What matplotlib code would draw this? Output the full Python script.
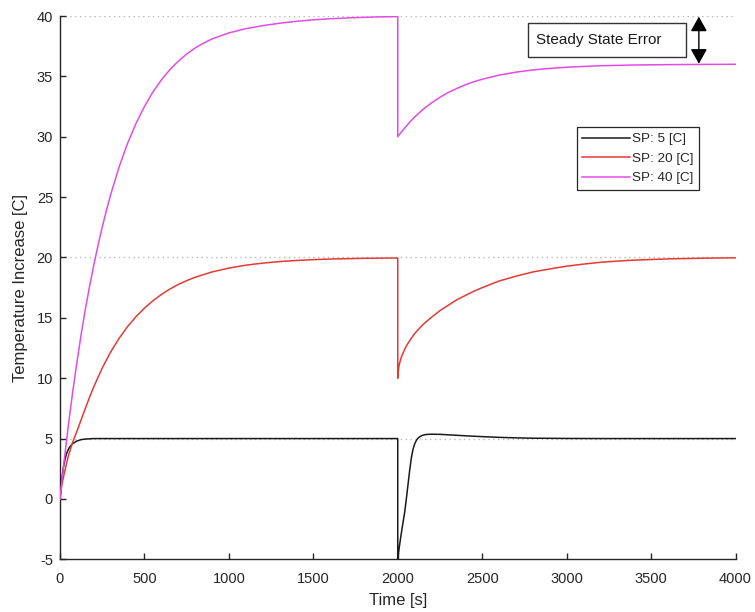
import matplotlib
matplotlib.use("Agg")
import matplotlib.pyplot as plt
from matplotlib.patches import FancyArrowPatch, Rectangle

plt.rcParams["font.family"] = ["Liberation Sans", "DejaVu Sans"]
plt.rcParams["axes.unicode_minus"] = False

AX_C = "#262626"
GRID_C = "#b8b8b8"

# Temperature response for each set point; the disturbance hits at t = 2000 s.
t_sp5 = [0, 5, 10, 15, 20, 30, 40, 50, 60, 75, 100, 125, 150, 175, 200, 1000, 2000,
         2000, 2010, 2020, 2030, 2040, 2050, 2060, 2070, 2080, 2090, 2100, 2110,
         2120, 2130, 2145, 2160, 2180, 2200, 2250, 2300, 2350, 2400, 2500, 2600,
         2700, 2800, 2900, 3000, 3200, 4000]
y_sp5 = [0, 0.8, 1.5, 2.1, 2.6, 3.3, 3.8, 4.12, 4.35, 4.58, 4.8, 4.91, 4.96, 4.98, 5.0, 5.0, 5.0,
         -5.0, -3.9, -2.95, -2.05, -1.2, -0.1, 1.1, 2.3, 3.35, 4.1, 4.55, 4.85,
         5.03, 5.15, 5.26, 5.32, 5.35, 5.36, 5.35, 5.31, 5.27, 5.23, 5.16, 5.1,
         5.06, 5.03, 5.02, 5.01, 5.0, 5.0]

t_sp20 = [0, 10, 25, 50, 75, 100, 125, 150, 175, 200, 250, 300, 350, 400, 450,
          500, 550, 600, 650, 700, 750, 800, 900, 1000, 1100, 1200, 1300, 1400,
          1500, 1600, 1800, 2000,
          2000, 2005, 2010, 2020, 2035, 2050, 2075, 2100, 2150, 2200, 2250, 2300,
          2350, 2400, 2450, 2500, 2600, 2700, 2800, 2900, 3000, 3100, 3200, 3300,
          3400, 3600, 3800, 4000]
y_sp20 = [0, 1.1, 2.1, 3.6, 4.7, 5.6, 6.55, 7.5, 8.42, 9.29, 10.84, 12.17, 13.3, 14.27, 15.1,
          15.8, 16.41, 16.93, 17.38, 17.76, 18.08, 18.36, 18.8, 19.12, 19.36, 19.53, 19.66, 19.75,
          19.82, 19.87, 19.93, 19.96,
          10.0, 10.8, 11.2, 11.7, 12.2, 12.65, 13.2, 13.7, 14.45, 15.05, 15.6, 16.05,
          16.5, 16.85, 17.2, 17.5, 18.05, 18.45, 18.8, 19.05, 19.28, 19.45, 19.6, 19.7,
          19.78, 19.88, 19.94, 19.97]

t_sp40 = [0, 25, 50, 75, 100, 125, 150, 175, 200, 225, 250, 275, 300, 350, 400,
          450, 500, 550, 600, 650, 700, 750, 800, 850, 900, 950, 1000, 1100, 1200,
          1300, 1400, 1500, 1600, 1700, 1800, 1900, 2000,
          2000, 2025, 2050, 2075, 2100, 2150, 2200, 2250, 2300, 2350, 2400, 2450,
          2500, 2600, 2700, 2800, 2900, 3000, 3200, 3400, 3600, 3800, 4000]
y_sp40 = [0, 3.2, 6.15, 8.85, 11.3, 13.6, 15.7, 17.6, 19.35, 21.0, 22.5, 23.9, 25.2, 27.5, 29.45,
          31.1, 32.5, 33.7, 34.7, 35.55, 36.25, 36.85, 37.35, 37.75, 38.1, 38.35, 38.6, 38.95, 39.2,
          39.4, 39.56, 39.68, 39.77, 39.84, 39.89, 39.93, 39.95,
          30.0, 30.45, 30.87, 31.27, 31.63, 32.27, 32.8, 33.27, 33.67, 34.0, 34.3, 34.55,
          34.76, 35.1, 35.35, 35.53, 35.66, 35.76, 35.88, 35.94, 35.97, 35.99, 36.0]

setpoints = [5, 20, 40]
labels = ["SP: 5 [C]", "SP: 20 [C]", "SP: 40 [C]"]
colors = ["#1a1a1a", "#e33a36", "#e24be6"]

x_ticks = [0, 500, 1000, 1500, 2000, 2500, 3000, 3500, 4000]
y_ticks = [-5, 0, 5, 10, 15, 20, 25, 30, 35, 40]

fig = plt.figure(figsize=(7.55, 6.12), dpi=100)
ax = fig.add_axes([60 / 755, 1 - 559.3 / 612, 675.5 / 755, 543.3 / 612])

for sp in setpoints:
    ax.axhline(sp, color=GRID_C, ls=(0, (1, 2.5)), lw=1.0, zorder=1)

series = [(t_sp5, y_sp5), (t_sp20, y_sp20), (t_sp40, y_sp40)]
for (t, y), lab, c in zip(series, labels, colors):
    ax.plot(t, y, color=c, lw=1.1, label=lab, zorder=3)

ax.set_xlim(0, 4000)
ax.set_ylim(-5, 40)
ax.set_xticks(x_ticks)
ax.set_yticks(y_ticks)
ax.spines["top"].set_visible(False)
ax.spines["right"].set_visible(False)
for s in ("left", "bottom"):
    ax.spines[s].set_color(AX_C)
    ax.spines[s].set_linewidth(1.0)
ax.tick_params(direction="in", length=4.5, width=1.0, colors=AX_C,
               labelsize=10.5, pad=5)
ax.tick_params(axis="x", pad=9)
ax.set_xlabel("Time [s]", fontsize=12, color=AX_C, labelpad=5)
ax.set_ylabel("Temperature Increase [C]", fontsize=12, color=AX_C, labelpad=6)

leg = ax.legend(loc="upper left", bbox_to_anchor=(0.765, 0.795),
                borderaxespad=0, fancybox=False, framealpha=1,
                edgecolor=AX_C, fontsize=9.7, handlelength=3.5,
                handletextpad=0.15, labelspacing=0.52, borderpad=0.42)
leg.get_frame().set_linewidth(0.9)
for txt in leg.get_texts():
    txt.set_color(AX_C)

# annotation: text box plus double arrow spanning the offset from 40 to 36
ax.add_patch(Rectangle((2769, 36.64), 3707 - 2769, 39.41 - 36.64,
                       fc="white", ec="#333333", lw=1.0, zorder=4))
ax.text(2818, 38.03, "Steady State Error", fontsize=11, color="#1a1a1a",
        ha="left", va="center", zorder=5)
ax.add_patch(FancyArrowPatch((3783, 36.05), (3783, 39.95),
                             arrowstyle="<|-|>,head_length=0.5,head_width=0.28",
                             mutation_scale=18, color="black", lw=1.0,
                             shrinkA=0, shrinkB=0, zorder=5))

fig.savefig("out.png", dpi=100, facecolor="white")
